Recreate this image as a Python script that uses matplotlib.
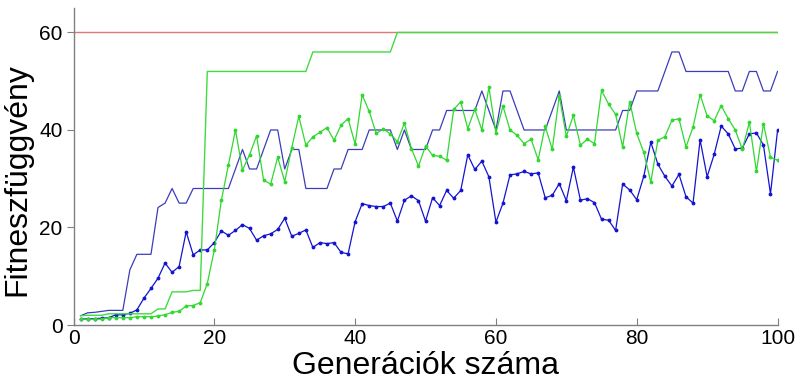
import numpy as np
import matplotlib
matplotlib.use("Agg")
import matplotlib.pyplot as plt

plt.rcParams["font.family"] = ["Liberation Sans", "DejaVu Sans"]

# generations 1..100
generations = np.arange(1, 101)

optimum = 60

green_best = [1.9, 2.0, 2.0, 2.0, 2.3, 2.3, 2.3, 2.3, 2.3, 2.3,
              2.3, 3.3, 3.3, 6.8, 6.8, 6.8, 7.1, 7.1, 52, 52,
              52, 52, 52, 52, 52, 52, 52, 52, 52, 52,
              52, 52, 52, 56, 56, 56, 56, 56, 56, 56,
              56, 56, 56, 56, 56, 60, 60, 60, 60, 60] + [60] * 50

blue_best = [1.9, 2.5, 2.6, 2.8, 3.0, 3.0, 3.0, 11.3, 14.5, 14.5,
             14.5, 24.1, 25, 28, 25, 25, 28, 28, 28, 28,
             28, 28, 32, 36, 32, 32, 36, 40, 40, 32,
             36, 36, 28, 28, 28, 28, 32, 32, 36, 36,
             36, 40, 40, 40, 40, 36, 40, 36, 36, 36,
             40, 40, 44, 44, 44, 44, 44, 48, 44, 40,
             48, 48, 44, 40, 40, 40, 40, 44, 48, 40,
             40, 40, 40, 40, 40, 40, 40, 44, 44, 48,
             48, 48, 48, 52, 56, 56, 52, 52, 52, 52,
             52, 52, 52, 48, 48, 52, 52, 48, 48, 52]

green_mean = [1.2, 1.2, 1.2, 1.2, 1.5, 1.5, 1.5, 1.5, 1.7, 1.7,
              1.7, 1.85, 2.1, 2.6, 2.8, 3.9, 4.0, 4.6, 8.5, 15.4,
              25.6, 32.8, 40.0, 31.8, 34.9, 38.8, 29.7, 28.9, 34.4, 29.4,
              36.4, 42.8, 36.9, 38.6, 39.5, 40.5, 37.9, 41.0, 42.3, 37.1,
              47.2, 43.8, 39.3, 40.2, 39.2, 37.6, 41.4, 36.2, 32.6, 36.7,
              34.8, 34.6, 33.8, 44.2, 45.8, 40.3, 44.2, 40.0, 48.8, 39.4,
              44.9, 40.0, 38.9, 37.2, 38.1, 33.9, 40.8, 36.0, 47.0, 38.7,
              43.0, 36.9, 38.1, 37.2, 48.1, 45.3, 43.2, 36.5, 45.8, 39.3,
              35.4, 29.3, 37.9, 38.6, 42.0, 42.3, 36.5, 40.6, 47.2, 42.9,
              41.9, 45.0, 42.3, 40.0, 36.0, 41.6, 31.5, 41.3, 34.4, 33.8]

blue_mean = [1.2, 1.3, 1.3, 1.4, 1.5, 2.1, 2.1, 2.4, 3.1, 5.5,
             7.5, 9.6, 12.7, 10.8, 12.0, 19.1, 14.4, 15.4, 15.4, 16.9,
             19.3, 18.4, 19.4, 20.6, 19.8, 17.4, 18.3, 18.7, 19.6, 21.9,
             18.2, 18.8, 19.5, 15.9, 16.9, 16.7, 16.9, 14.9, 14.6, 21.2,
             24.9, 24.5, 24.3, 24.3, 25.0, 21.3, 25.6, 26.5, 25.5, 21.3,
             26.1, 24.5, 27.6, 26.0, 27.6, 34.9, 31.9, 33.6, 30.4, 21.1,
             25.0, 30.8, 31.0, 31.5, 31.0, 31.2, 26.1, 26.6, 29.0, 25.5,
             32.4, 25.6, 25.9, 25.1, 21.7, 21.5, 19.4, 28.9, 27.7, 25.7,
             30.5, 37.5, 33.0, 30.5, 28.5, 30.9, 26.3, 25.0, 38.0, 30.4,
             35.0, 40.8, 39.2, 36.1, 36.3, 39.2, 39.4, 36.9, 26.9, 39.9]

fig = plt.figure(figsize=(8.01, 3.83), dpi=100)
ax = fig.add_axes([0.0918, 0.1514, 0.8789, 0.8275])

ax.axhline(optimum, color="#e07878", linewidth=1.0)
ax.plot(generations, blue_best, color="#3c3cbc", linewidth=0.9)
ax.plot(generations, blue_mean, ".-", color="#1414d0", linewidth=0.9, markersize=3.5)
ax.plot(generations, green_best, color="#40dc40", linewidth=1.0)
ax.plot(generations, green_mean, ".-", color="#30d830", linewidth=0.9, markersize=3.5)

ax.set_xlim(0, 100)
ax.set_ylim(0, 65)
ax.set_xticks([0, 20, 40, 60, 80, 100])
ax.set_yticks([0, 20, 40, 60])

for side in ["top", "right"]:
    ax.spines[side].set_visible(False)
for side in ["left", "bottom"]:
    ax.spines[side].set_color("#808080")
    ax.spines[side].set_linewidth(1.0)

ax.tick_params(axis="x", direction="in", length=5, color="#808080", labelsize=15, pad=3)
ax.tick_params(axis="y", direction="out", length=5, color="#808080", labelsize=15, pad=3)

ax.set_xlabel("Generációk száma", fontsize=23, labelpad=2)
ax.set_ylabel("Fitneszfüggvény", fontsize=23)
ax.yaxis.set_label_coords(-0.058, 0.46)

fig.savefig("out.png", dpi=100)
